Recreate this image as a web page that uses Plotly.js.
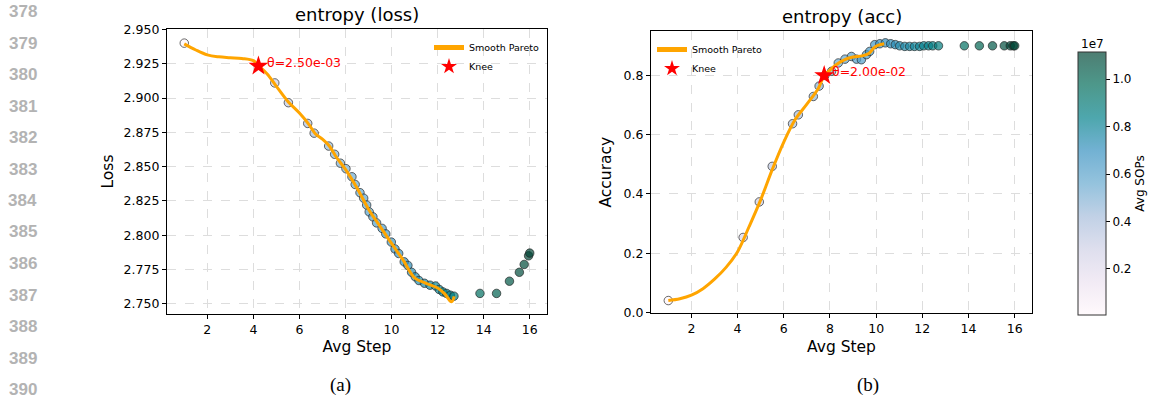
<!DOCTYPE html>
<html>
<head>
<meta charset="utf-8">
<script src="https://cdn.plot.ly/plotly-3.0.1.min.js"></script>
<style>html,body{margin:0;padding:0;background:#fff;}#chart{width:1153px;height:400px;}</style>
</head>
<body>
<div id="chart"></div>
<script>
// ---------- data ----------
const lossStep = [1.00,4.93,5.52,6.36,6.64,7.27,7.53,7.78,8.02,8.28,8.42,8.63,8.79,8.92,9.03,9.19,9.35,9.59,9.75,9.99,10.15,10.31,10.55,10.71,10.87,11.03,11.19,11.43,11.67,11.91,12.07,12.23,12.39,12.55,12.71,13.84,14.56,15.12,15.55,15.76,15.95,16.00];
const lossVal  = [2.9400,2.9110,2.8966,2.8815,2.8744,2.8650,2.8590,2.8525,2.8485,2.8426,2.8370,2.8310,2.8270,2.8220,2.8170,2.8134,2.8090,2.8050,2.8010,2.7950,2.7900,2.7867,2.7806,2.7780,2.7730,2.7697,2.7670,2.7650,2.7636,2.7630,2.7605,2.7587,2.7576,2.7563,2.7556,2.7576,2.7576,2.7665,2.7730,2.7787,2.7850,2.7870];
const lossSops = [0.006,0.296,0.340,0.402,0.423,0.469,0.489,0.507,0.525,0.544,0.555,0.570,0.582,0.591,0.599,0.611,0.623,0.641,0.653,0.670,0.682,0.694,0.712,0.724,0.735,0.747,0.759,0.777,0.794,0.812,0.824,0.836,0.848,0.859,0.871,0.955,1.008,1.049,1.081,1.097,1.111,1.115];

const accStep = [1.00,4.24,4.94,5.50,6.38,6.63,7.28,7.53,7.78,8.07,8.36,8.65,8.93,9.15,9.36,9.58,9.72,9.94,10.16,10.40,10.63,10.83,11.02,11.24,11.45,11.66,11.88,12.06,12.27,12.45,12.70,13.82,14.47,15.04,15.55,15.81,15.94,16.00];
const accVal  = [0.040,0.253,0.373,0.493,0.637,0.667,0.729,0.764,0.800,0.814,0.842,0.855,0.864,0.855,0.853,0.870,0.881,0.904,0.907,0.910,0.907,0.904,0.900,0.898,0.898,0.898,0.898,0.900,0.900,0.900,0.900,0.900,0.900,0.900,0.900,0.900,0.900,0.900];
const accSops = [0.006,0.245,0.297,0.339,0.404,0.422,0.470,0.489,0.507,0.528,0.550,0.571,0.592,0.608,0.624,0.640,0.650,0.667,0.683,0.701,0.718,0.733,0.747,0.763,0.778,0.794,0.810,0.823,0.839,0.852,0.871,0.954,1.001,1.044,1.081,1.101,1.110,1.115];

const paretoLossX = [1.0,1.5,2.0,2.5,3.0,3.5,4.0,4.22,4.6,5.0,5.5,6.0,6.4,6.7,7.0,7.3,7.6,8.0,8.5,9.0,9.5,10.0,10.5,11.0,11.5,12.0,12.3,12.6,12.72];
const paretoLossY = [2.9395,2.9350,2.9314,2.9300,2.9294,2.9288,2.9272,2.9235,2.9175,2.9085,2.8975,2.8890,2.8810,2.8738,2.8700,2.8650,2.8570,2.8480,2.8345,2.8190,2.8065,2.7940,2.7820,2.7690,2.7650,2.7615,2.7575,2.7515,2.7555];
const paretoAccX = [1.0,1.5,2.0,2.5,3.0,3.5,4.0,4.5,5.0,5.5,6.0,6.5,7.0,7.5,7.75,8.0,8.3,8.6,9.0,9.4,9.7,9.9,10.1,10.35];
const paretoAccY = [0.040,0.046,0.058,0.080,0.112,0.152,0.205,0.290,0.380,0.482,0.575,0.652,0.703,0.757,0.800,0.818,0.838,0.852,0.862,0.866,0.875,0.893,0.902,0.907];

const kneeLoss = {x:[4.22], y:[2.9233], label:'θ=2.50e-03'};
const kneeAcc  = {x:[7.75], y:[0.800], label:'θ=2.00e-02'};

const panelTitles = ['entropy (loss)','entropy (acc)'];
const yTitles = ['Loss','Accuracy'];
const xTitle = 'Avg Step';
const panelTags = ['(a)','(b)'];
const lineNums = ['378','379','380','381','382','383','384','385','386','387','388','389','390'];
const cbTicks = [0.2,0.4,0.6,0.8,1.0];

// ---------- styling ----------
const W = 1153, H = 400;
const px = v => v / W, py = v => 1 - v / H;
const FONT = 'DejaVu Sans, sans-serif';
const a = 0.7;
const cscale = [
  [0.000,`rgba(255,247,251,${a})`],[0.125,`rgba(236,226,240,${a})`],[0.250,`rgba(208,209,230,${a})`],
  [0.375,`rgba(166,189,219,${a})`],[0.500,`rgba(103,169,207,${a})`],[0.625,`rgba(54,144,192,${a})`],
  [0.750,`rgba(2,129,138,${a})`],[0.875,`rgba(1,108,89,${a})`],[1.000,`rgba(1,70,54,${a})`]
];
const CMIN = 0.006, CMAX = 1.115;
const mk = (c, show) => ({
  color: c, colorscale: cscale, cmin: CMIN, cmax: CMAX, size: 8.5,
  line: {color: 'rgba(35,35,35,0.75)', width: 0.9},
  showscale: show,
  colorbar: show ? {
    x: px(1078), xanchor: 'left', y: py(315), yanchor: 'bottom',
    len: (315 - 52) / H, lenmode: 'fraction', thickness: 28, thicknessmode: 'pixels',
    xpad: 0, ypad: 0, outlinecolor: '#333', outlinewidth: 1,
    tickvals: cbTicks, ticktext: cbTicks.map(v => v.toFixed(1)),
    ticks: 'outside', ticklen: 4, tickcolor: '#000',
    tickfont: {family: FONT, size: 12, color: '#000'},
    title: {text: 'Avg SOPs', side: 'right', font: {family: FONT, size: 12, color: '#000'}}
  } : undefined
});

const traces = [
  {x: lossStep, y: lossVal, type: 'scatter', mode: 'markers', marker: mk(lossSops, false), showlegend: false, xaxis: 'x', yaxis: 'y', hoverinfo: 'skip'},
  {x: paretoLossX, y: paretoLossY, type: 'scatter', mode: 'lines', name: 'Smooth Pareto', line: {color: '#FFA500', width: 3, shape: 'spline', smoothing: 1}, xaxis: 'x', yaxis: 'y', legend: 'legend'},
  {x: kneeLoss.x, y: kneeLoss.y, type: 'scatter', mode: 'markers', name: 'Knee', marker: {symbol: 'star', size: 15, color: '#FF0000', line: {width: 0}}, xaxis: 'x', yaxis: 'y', legend: 'legend'},
  {x: accStep, y: accVal, type: 'scatter', mode: 'markers', marker: mk(accSops, true), showlegend: false, xaxis: 'x2', yaxis: 'y2', hoverinfo: 'skip'},
  {x: paretoAccX, y: paretoAccY, type: 'scatter', mode: 'lines', name: 'Smooth Pareto', line: {color: '#FFA500', width: 3, shape: 'spline', smoothing: 1}, xaxis: 'x2', yaxis: 'y2', legend: 'legend2'},
  {x: kneeAcc.x, y: kneeAcc.y, type: 'scatter', mode: 'markers', name: 'Knee', marker: {symbol: 'star', size: 15, color: '#FF0000', line: {width: 0}}, xaxis: 'x2', yaxis: 'y2', legend: 'legend2'}
];

const axBase = {
  showline: true, mirror: true, linecolor: '#000', linewidth: 1.1,
  ticks: 'outside', ticklen: 4, tickwidth: 1, tickcolor: '#000',
  tickfont: {family: FONT, size: 12.5, color: '#000'},
  showgrid: true, gridcolor: '#dddddd', gridwidth: 1, griddash: 'dash',
  zeroline: false
};
const xAx = (dom, anchor) => Object.assign({}, axBase, {
  domain: dom, anchor: anchor, range: [0.25, 16.75], tick0: 0, dtick: 2,
  title: {text: xTitle, font: {family: FONT, size: 15.5, color: '#000'}, standoff: 5}
});

const annotations = [];
// subplot titles
[[px(167), px(547), py(29)], [px(651), px(1032), py(31)]].forEach((d, i) => {
  annotations.push({xref: 'paper', yref: 'paper', x: (d[0] + d[1]) / 2, y: d[2], xanchor: 'center', yanchor: 'bottom', yshift: 2,
    text: panelTitles[i], showarrow: false, font: {family: FONT, size: 18, color: '#000'}});
});
// knee labels
annotations.push({xref: 'x', yref: 'y', x: kneeLoss.x[0], y: kneeLoss.y[0], xanchor: 'left', yanchor: 'middle', xshift: 7, yshift: 4,
  text: kneeLoss.label, showarrow: false, font: {family: FONT, size: 12.5, color: '#FF0000'}});
annotations.push({xref: 'x2', yref: 'y2', x: kneeAcc.x[0], y: kneeAcc.y[0], xanchor: 'left', yanchor: 'middle', xshift: 6, yshift: 4,
  text: kneeAcc.label, showarrow: false, font: {family: FONT, size: 12.5, color: '#FF0000'}});
// colorbar exponent
annotations.push({xref: 'paper', yref: 'paper', x: px(1092), y: py(52), xanchor: 'center', yanchor: 'bottom', yshift: -1,
  text: '1e7', showarrow: false, font: {family: FONT, size: 12, color: '#000'}});
// panel tags
annotations.push({xref: 'paper', yref: 'paper', x: px(340), y: py(385), xanchor: 'center', yanchor: 'middle', text: panelTags[0], showarrow: false,
  font: {family: 'Liberation Serif, serif', size: 19, color: '#000'}});
annotations.push({xref: 'paper', yref: 'paper', x: px(868), y: py(385), xanchor: 'center', yanchor: 'middle', text: panelTags[1], showarrow: false,
  font: {family: 'Liberation Serif, serif', size: 19, color: '#000'}});
// line numbers
lineNums.forEach((t, i) => {
  annotations.push({xref: 'paper', yref: 'paper', x: px(39), y: py(11.5 + i * 31.5), xanchor: 'right', yanchor: 'middle',
    text: '<b>' + t + '</b>', showarrow: false, font: {family: 'Liberation Sans, Arial, sans-serif', size: 17, color: '#b3b3b3'}});
});

const legBase = {bgcolor: 'rgba(0,0,0,0)', borderwidth: 0, font: {family: FONT, size: 9.5, color: '#000'},
  itemwidth: 30, itemsizing: 'constant', tracegroupgap: 0, orientation: 'v'};

const layout = {
  width: W, height: H,
  margin: {l: 0, r: 0, t: 0, b: 0, autoexpand: false},
  paper_bgcolor: '#fff', plot_bgcolor: '#fff',
  font: {family: FONT, color: '#000'},
  xaxis: xAx([px(167), px(547)], 'y'),
  yaxis: Object.assign({}, axBase, {domain: [py(314), py(29)], anchor: 'x', range: [2.7426, 2.9503], dtick: 0.025, tick0: 2.75, tickformat: '.3f',
    title: {text: yTitles[0], font: {family: FONT, size: 15.5, color: '#000'}, standoff: 6}}),
  xaxis2: xAx([px(651), px(1032)], 'y2'),
  yaxis2: Object.assign({}, axBase, {domain: [py(313.3), py(31)], anchor: 'x2', range: [-0.003, 0.95], dtick: 0.2, tick0: 0, tickformat: '.1f',
    title: {text: yTitles[1], font: {family: FONT, size: 15.5, color: '#000'}, standoff: 8}}),
  legend: Object.assign({}, legBase, {x: px(545), xanchor: 'right', y: py(33), yanchor: 'top'}),
  legend2: Object.assign({}, legBase, {x: px(652), xanchor: 'left', y: py(35), yanchor: 'top'}),
  annotations: annotations,
  showlegend: true
};

Plotly.newPlot('chart', traces, layout, {staticPlot: true, displayModeBar: false});
</script>
</body>
</html>
